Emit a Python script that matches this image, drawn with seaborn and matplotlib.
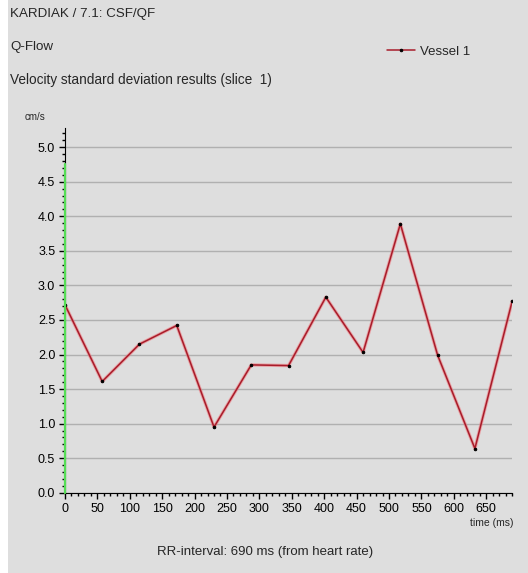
import numpy as np
import pandas as pd
import matplotlib
matplotlib.use("Agg")
import matplotlib.pyplot as plt
import seaborn as sns
from matplotlib.ticker import MultipleLocator, FormatStrFormatter
from matplotlib.patches import Rectangle

# Datos (ms, cm/s)
tiempos_ms = [0, 57.5, 115, 172.5, 230, 287.5, 345, 402.5, 460, 517.5, 575, 632.5, 690]
desv_std = [2.72, 1.61, 2.15, 2.42, 0.95, 1.85, 1.84, 2.83, 2.03, 3.89, 1.99, 0.64, 2.77]
serie = "Vessel 1"

fondo = "#dedede"

sns.set_style("white", {"axes.facecolor": fondo, "figure.facecolor": fondo})
plt.rcParams["font.family"] = ["Liberation Sans", "DejaVu Sans"]

df = pd.DataFrame({"t": tiempos_ms, "v": desv_std, "serie": serie})

fig = plt.figure(figsize=(5.28, 5.73), dpi=100)
fig.patches.append(Rectangle((0, 0), 8 / 528, 1, transform=fig.transFigure,
                             facecolor="white", edgecolor="none", zorder=0))
ax = fig.add_axes([0.123, 0.140, 0.847, 0.637])
ax.set_facecolor(fondo)

# halo claro + linea principal
ax.plot(df["t"], df["v"], color="#f07a80", lw=2.4, alpha=0.6, zorder=2)
sns.lineplot(data=df, x="t", y="v", hue="serie", palette=["#a81c2a"], lw=1.1,
             marker="o", markersize=1.8, markerfacecolor="black",
             markeredgecolor="black", ax=ax, zorder=3)

ax.set_xlim(0, 690)
ax.set_ylim(0, 5.28)
ax.xaxis.set_major_locator(MultipleLocator(50))
ax.xaxis.set_minor_locator(MultipleLocator(10))
ax.yaxis.set_major_locator(MultipleLocator(0.5))
ax.yaxis.set_minor_locator(MultipleLocator(0.1))
ax.yaxis.set_major_formatter(FormatStrFormatter("%.1f"))
ax.set_yticks(np.arange(0, 5.01, 0.5))
ax.set_xticks(np.arange(0, 651, 50))
ax.tick_params(which="both", bottom=True, left=True)
ax.tick_params(which="major", direction="out", length=4.5, width=1, labelsize=9,
               colors="black", pad=2.5)
ax.tick_params(which="minor", direction="out", length=2, width=1, colors="black")
ax.grid(axis="y", which="major", color="#b0b0b0", lw=1)
ax.set_axisbelow(True)
ax.set_xlabel("")
ax.set_ylabel("")

for lado in ["top", "right"]:
    ax.spines[lado].set_visible(False)
ax.spines["left"].set_color("black")
ax.spines["bottom"].set_color("black")
ax.axvline(0, ymin=0, ymax=4.75 / 5.28, color="#55dd55", lw=1.6, zorder=4, clip_on=False)

leg = ax.legend(loc="center left", bbox_to_anchor=(375 / 528, 1 - 52 / 573),
                bbox_transform=fig.transFigure, frameon=False, fontsize=9.5,
                handlelength=2.1, handletextpad=0.4)

fig.text(10 / 528, 1 - 14 / 573, "KARDIAK / 7.1: CSF/QF", fontsize=9.6, va="center")
fig.text(10 / 528, 1 - 47 / 573, "Q-Flow", fontsize=9.6, va="center")
fig.text(10 / 528, 1 - 80 / 573, "Velocity standard deviation results (slice  1)",
         fontsize=9.8, va="center")
fig.text(25 / 528, 1 - 117 / 573, "cm/s", fontsize=7, va="center")
fig.text(513 / 528, 1 - 523 / 573, "time (ms)", fontsize=7.5, va="center", ha="right")
fig.text(265 / 528, 1 - 552 / 573, "RR-interval: 690 ms (from heart rate)",
         fontsize=9.5, va="center", ha="center")

fig.savefig("out.png", dpi=100, facecolor=fondo)
